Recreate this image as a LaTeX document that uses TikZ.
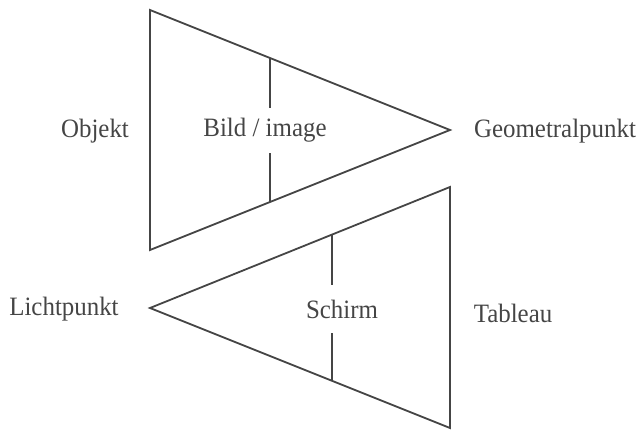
\documentclass[tikz,border=0pt]{standalone}
\usepackage{fontspec}
\setmainfont{Liberation Serif}
\definecolor{ink}{HTML}{454545}
\newcommand{\narrowtxt}[1]{\scalebox{0.94}[1]{#1}}
\begin{document}
\begin{tikzpicture}[x=1pt,y=-1pt,
  edge/.style={draw=ink,line width=1.8pt,line join=miter},
  lbl/.style={text=ink,font=\fontsize{26.5}{30}\selectfont,inner sep=0pt,anchor=center},
  gaplbl/.style={lbl,minimum height=#1}]
\useasboundingbox (0,0) rectangle (641,430);
% upper triangle
\coordinate (A1) at (150,10);
\coordinate (A2) at (150,250);
\coordinate (A3) at (450,130);
\draw[edge] (A1) -- (A3) -- (A2) -- cycle;
\coordinate (v1t) at (270,58);
\coordinate (v1b) at (270,202);
\node[gaplbl=45pt] (bild) at (265,130.5) {\narrowtxt{Bild / image}};
\draw[edge] (v1t) -- (v1t |- bild.north);
\draw[edge] (v1b |- bild.south) -- (v1b);
\node[lbl] (objekt) at (95,131) {\narrowtxt{Objekt}};
\node[lbl] (geo) at (555,131) {\narrowtxt{Geometralpunkt}};
% lower triangle
\coordinate (B1) at (450,187);
\coordinate (B2) at (450,428);
\coordinate (B3) at (150,308);
\draw[edge] (B1) -- (B3) -- (B2) -- cycle;
\coordinate (v2t) at (332,234.6);
\coordinate (v2b) at (332,380.8);
\node[gaplbl=48pt] (schirm) at (342,309) {\narrowtxt{Schirm}};
\draw[edge] (v2t) -- (v2t |- schirm.north);
\draw[edge] (v2b |- schirm.south) -- (v2b);
\node[lbl] (licht) at (64,309) {\narrowtxt{Lichtpunkt}};
\node[lbl] (tableau) at (513,313) {\narrowtxt{Tableau}};
\end{tikzpicture}
\end{document}
